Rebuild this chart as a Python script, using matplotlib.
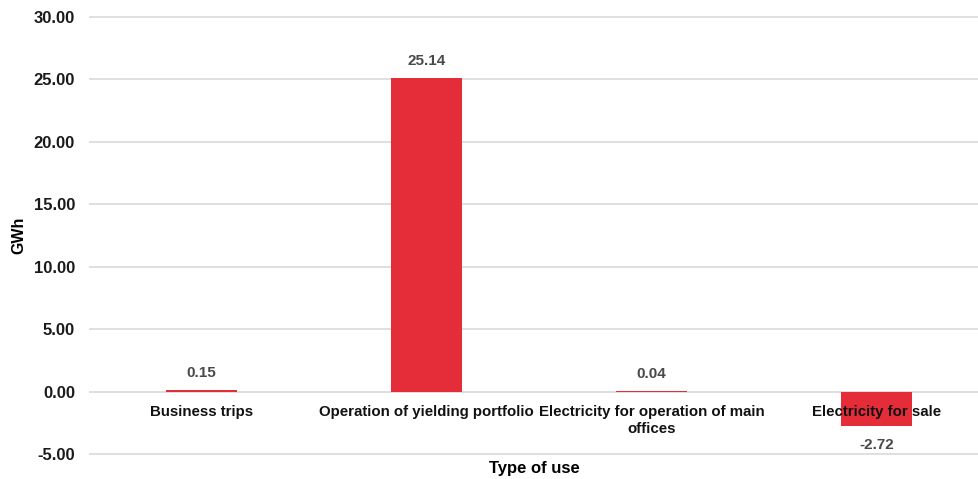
import matplotlib
matplotlib.use("Agg")
import matplotlib.pyplot as plt
from matplotlib.transforms import offset_copy

categories = ["Business trips", "Operation of yielding portfolio",
              "Electricity for operation of main\noffices", "Electricity for sale"]
values = [0.15, 25.14, 0.04, -2.72]
yticks = [-5, 0, 5, 10, 15, 20, 25, 30]

plt.rcParams['font.family'] = ['Liberation Sans', 'DejaVu Sans']
fig = plt.figure(figsize=(9.79, 4.79), dpi=100)
W, H = 979, 479
ppu = (454 - 17) / 35.0
pad = 0.1
top_px = 17 - pad * ppu
bot_px = 454 + pad * ppu
ax = fig.add_axes([89 / W, 1 - bot_px / H, 900 / W, (bot_px - top_px) / H])

x = list(range(len(categories)))
ax.bar(x, values, width=0.315, color="#e52d3a", zorder=2)
ax.set_xlim(-0.5, len(categories) - 0.5)
ax.set_ylim(-5 - pad, 30 + pad)
ax.set_yticks(yticks)
ax.set_yticklabels([f"{v:.2f}" for v in yticks], fontsize=12, fontweight='bold', color='#1a1a1a')
ax.tick_params(axis='y', length=0, pad=10)
ax.set_xticks([])
ax.grid(axis='y', color='#d9d9d9', linewidth=1.2, zorder=0)
ax.set_axisbelow(True)
for s in ax.spines.values():
    s.set_visible(False)

for xi, v, c in zip(x, values, categories):
    if v >= 0:
        t = offset_copy(ax.transData, fig=fig, x=0, y=7, units='points')
        ax.text(xi, v, f"{v:.2f}", transform=t, ha='center', va='bottom',
                fontsize=11, fontweight='bold', color='#4a4a4a', zorder=5)
    else:
        t = offset_copy(ax.transData, fig=fig, x=0, y=-9, units='points')
        ax.text(xi, v, f"{v:.2f}", transform=t, ha='center', va='top',
                fontsize=11, fontweight='bold', color='#4a4a4a', zorder=5)
    tl = offset_copy(ax.transData, fig=fig, x=0, y=-9.5, units='points')
    ax.text(xi, 0, c, transform=tl, ha='center', va='top', fontsize=10.8,
            fontweight='bold', color='#111111', zorder=5, linespacing=1.3)

ax.set_ylabel("GWh", fontsize=11.5, fontweight='bold')
ax.yaxis.set_label_coords(-63 / 900, 0.5)
ax.set_xlabel("Type of use", fontsize=12, fontweight='bold')
ax.xaxis.set_label_coords((534 - 89) / 900, -0.014)
ax.xaxis.label.set_va('top')

fig.savefig("out.png", dpi=100)
